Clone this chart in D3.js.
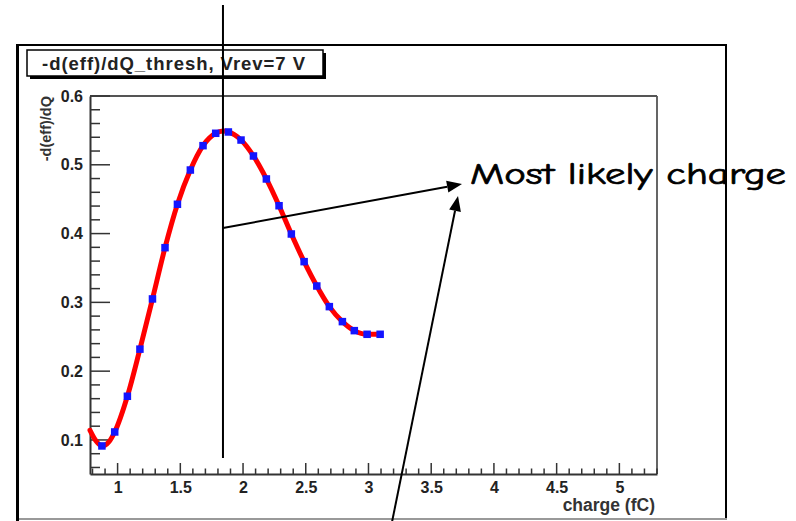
<!DOCTYPE html>
<html><head><meta charset="utf-8">
<script src="https://cdn.jsdelivr.net/npm/d3@7"></script>
<style>
html,body{margin:0;padding:0;background:#fff;}
svg{display:block;}
</style></head>
<body>
<svg id="c" width="796" height="521"></svg>
<script>
// ---- data ----
const title = "-d(eff)/dQ_thresh, Vrev=7 V";
const xTitle = "charge (fC)";
const yTitle = "-d(eff)/dQ";
const annotation = "Most likely charge";
const xDomain = [0.78, 5.3];
const yDomain = [0.0505, 0.6];
const xMajorTicks = [1, 1.5, 2, 2.5, 3, 3.5, 4, 4.5, 5];
const xTickLabels = ["1", "1.5", "2", "2.5", "3", "3.5", "4", "4.5", "5"];
const yMajorTicks = [0.1, 0.2, 0.3, 0.4, 0.5, 0.6];
const yTickLabels = ["0.1", "0.2", "0.3", "0.4", "0.5", "0.6"];
// measured points (blue squares)
const pointX = [0.875, 0.977, 1.078, 1.178, 1.278, 1.378, 1.477, 1.58, 1.681, 1.782, 1.883, 1.984,
                2.083, 2.186, 2.287, 2.385, 2.487, 2.588, 2.688, 2.792, 2.887, 2.989, 3.093];
const pointY = [0.0913, 0.1116, 0.1635, 0.232, 0.305, 0.3795, 0.4426, 0.4924, 0.5278, 0.5458, 0.5477, 0.536,
                0.5128, 0.4794, 0.4405, 0.3994, 0.3592, 0.3238, 0.2938, 0.272, 0.2589, 0.2536, 0.2536];
// fitted curve (red)
const fitX = [0.78, 0.83, 0.875, 0.93, 0.977, 1.078, 1.178, 1.278, 1.378, 1.477, 1.58, 1.681, 1.782, 1.84, 1.883, 1.984,
              2.083, 2.186, 2.287, 2.385, 2.487, 2.588, 2.688, 2.792, 2.887, 2.989, 3.093];
const fitY = [0.114, 0.098, 0.091, 0.097, 0.1116, 0.1635, 0.232, 0.305, 0.3795, 0.4426, 0.4924, 0.5278, 0.5458, 0.549, 0.5477, 0.536,
              0.5128, 0.4794, 0.4405, 0.3994, 0.3592, 0.3238, 0.2938, 0.272, 0.2589, 0.2536, 0.2536];
const peakX = 1.84;

// ---- layout ----
const svg = d3.select("#c");
const L = 90, R = 657, T = 96, B = 474;
const x = d3.scaleLinear().domain(xDomain).range([L, R]);
const y = d3.scaleLinear().domain(yDomain).range([B, T]);
const font = "'Liberation Sans', Arial, Helvetica, sans-serif";

svg.append("rect").attr("width", 796).attr("height", 521).attr("fill", "#fff");

// outer canvas frame
svg.append("line").attr("x1", 17).attr("x2", 727).attr("y1", 45).attr("y2", 45).attr("stroke", "#000").attr("stroke-width", 2);
svg.append("line").attr("x1", 726).attr("x2", 726).attr("y1", 44).attr("y2", 520).attr("stroke", "#000").attr("stroke-width", 2);
svg.append("line").attr("x1", 17).attr("x2", 727).attr("y1", 519).attr("y2", 519).attr("stroke", "#999").attr("stroke-width", 2);
svg.append("line").attr("x1", 17.5).attr("x2", 17.5).attr("y1", 44).attr("y2", 521).attr("stroke", "#000").attr("stroke-width", 3);

// plot frame (top/right gray)
svg.append("line").attr("x1", L).attr("x2", R).attr("y1", T).attr("y2", T).attr("stroke", "#555").attr("stroke-width", 1.8);
svg.append("line").attr("x1", R).attr("x2", R).attr("y1", T).attr("y2", B).attr("stroke", "#555").attr("stroke-width", 1.8);

// x axis
const xAxis = d3.axisBottom(x).tickValues(xMajorTicks).tickSize(0).tickPadding(4).tickFormat((d, i) => xTickLabels[i]);
const gx = svg.append("g").attr("transform", `translate(0,${B})`).call(xAxis);
gx.select(".domain").attr("stroke", "#333").attr("stroke-width", 2);
gx.selectAll("text").attr("font-family", font).attr("font-weight", "bold").attr("font-size", 16)
  .attr("fill", "#222").attr("dy", "0.95em");
const xMinor = d3.range(8, 54).map(v => v / 10).filter(v => v >= xDomain[0] && v <= xDomain[1]);
svg.append("g").selectAll("line").data(xMinor).join("line")
  .attr("x1", d => x(d)).attr("x2", d => x(d))
  .attr("y1", B).attr("y2", d => B - (xMajorTicks.some(m => Math.abs(m - d) < 1e-6) ? 11 : 5.5))
  .attr("stroke", "#333").attr("stroke-width", 1.5);

// y axis
const yAxis = d3.axisLeft(y).tickValues(yMajorTicks).tickSize(0).tickPadding(7).tickFormat((d, i) => yTickLabels[i]);
const gy = svg.append("g").attr("transform", `translate(${L},0)`).call(yAxis);
gy.select(".domain").attr("stroke", "#333").attr("stroke-width", 2);
gy.selectAll("text").attr("font-family", font).attr("font-weight", "bold").attr("font-size", 16).attr("fill", "#222");
const yMinor = d3.range(3, 31).map(v => v / 50).filter(v => v >= yDomain[0] && v <= yDomain[1] + 1e-9);
svg.append("g").selectAll("line").data(yMinor).join("line")
  .attr("x1", L).attr("x2", d => L + (yMajorTicks.some(m => Math.abs(m - d) < 1e-6) ? 20 : 10))
  .attr("y1", d => y(d)).attr("y2", d => y(d))
  .attr("stroke", "#333").attr("stroke-width", 1.5);

// axis titles
svg.append("text").attr("x", R - 2).attr("y", 511).attr("text-anchor", "end")
  .attr("font-family", font).attr("font-weight", "bold").attr("font-size", 17.5).attr("fill", "#333").text(xTitle);
svg.append("text").attr("transform", `translate(51,${T}) rotate(-90)`).attr("text-anchor", "end")
  .attr("font-family", font).attr("font-weight", "bold").attr("font-size", 14.5).attr("fill", "#333").text(yTitle);

// fit curve
const line = d3.line().x(d => x(d[0])).y(d => y(d[1])).curve(d3.curveMonotoneX);
svg.append("path").datum(fitX.map((v, i) => [v, fitY[i]]))
  .attr("d", line).attr("fill", "none").attr("stroke", "#ff0000").attr("stroke-width", 5)
  .attr("stroke-linecap", "round").attr("stroke-linejoin", "round");

// points
svg.append("g").selectAll("rect").data(pointX.map((v, i) => [v, pointY[i]])).join("rect")
  .attr("x", d => x(d[0]) - 3.75).attr("y", d => y(d[1]) - 3.75)
  .attr("width", 7.5).attr("height", 7.5).attr("fill", "#1414ff");

// title box
svg.append("rect").attr("x", 30).attr("y", 53).attr("width", 296).attr("height", 26).attr("fill", "#000");
svg.append("rect").attr("x", 27).attr("y", 50).attr("width", 296).attr("height", 26)
  .attr("fill", "#fff").attr("stroke", "#000").attr("stroke-width", 1.5);
svg.append("text").attr("x", 42).attr("y", 69.5).attr("font-family", font).attr("font-weight", "bold")
  .attr("font-size", 18.5).attr("textLength", 263).attr("lengthAdjust", "spacing").attr("fill", "#222").text(title);

// annotations
const ann = svg.append("g").attr("stroke", "#000").attr("stroke-width", 2);
ann.append("line").attr("x1", x(peakX)).attr("x2", x(peakX)).attr("y1", 5).attr("y2", 458);
function arrow(x1, y1, x2, y2) {
  const a = Math.atan2(y2 - y1, x2 - x1), len = 15, w = 6;
  const bx = x2 - len * Math.cos(a), by = y2 - len * Math.sin(a);
  ann.append("line").attr("x1", x1).attr("y1", y1).attr("x2", bx).attr("y2", by);
  const px = -Math.sin(a) * w, py = Math.cos(a) * w;
  ann.append("polygon").attr("points", `${x2},${y2} ${bx + px},${by + py} ${bx - px},${by - py}`)
    .attr("fill", "#000").attr("stroke", "none");
}
arrow(x(peakX), 228, 462, 184);
arrow(392, 522, 458, 196);
svg.append("text").attr("x", 470).attr("y", 184)
  .attr("font-family", "'Comic Sans MS', 'Comic Neue', 'DejaVu Sans', sans-serif")
  .attr("font-size", 30).attr("textLength", 316).attr("lengthAdjust", "spacingAndGlyphs")
  .attr("fill", "#000").attr("stroke", "#000").attr("stroke-width", 0.7).text(annotation);
</script>
</body></html>
